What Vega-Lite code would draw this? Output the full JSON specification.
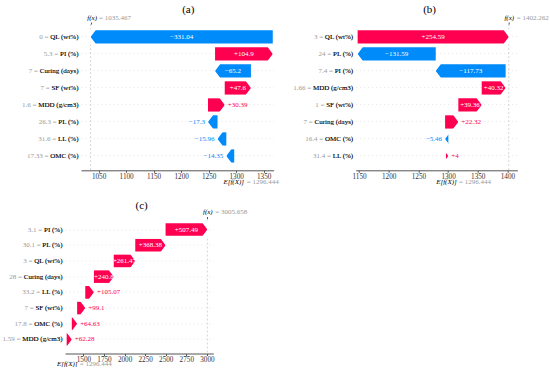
{
  "$schema": "https://vega.github.io/schema/vega-lite/v6.json",
  "padding": {"left": 0, "top": 4, "right": 0, "bottom": 0},
  "background": "white",
  "config": {
    "view": {"stroke": null},
    "font": "Liberation Serif",
    "axis": {"labelFont": "Liberation Serif", "labelFontSize": 7, "titleFont": "Liberation Serif"},
    "title": {"font": "Liberation Serif", "fontSize": 11, "fontWeight": "normal", "color": "#000000"},
    "text": {"font": "Liberation Serif", "fontSize": 7}
  },
  "datasets": {
    "a": [
      {"label": "0 = QL (wt%)", "shap": -331.04, "start": 1366.507, "end": 1035.467, "txt": "−331.04"},
      {"label": "5.3 = PI (%)", "shap": 104.9, "start": 1261.607, "end": 1366.507, "txt": "+104.9"},
      {"label": "7 = Curing (days)", "shap": -65.2, "start": 1326.807, "end": 1261.607, "txt": "−65.2"},
      {"label": "7 = SF (wt%)", "shap": 47.6, "start": 1279.207, "end": 1326.807, "txt": "+47.6"},
      {"label": "1.6 = MDD (g/cm3)", "shap": 30.39, "start": 1248.817, "end": 1279.207, "txt": "+30.39"},
      {"label": "26.3 = PL (%)", "shap": -17.3, "start": 1266.117, "end": 1248.817, "txt": "−17.3"},
      {"label": "31.6 = LL (%)", "shap": -15.96, "start": 1282.077, "end": 1266.117, "txt": "−15.96"},
      {"label": "17.33 = OMC (%)", "shap": -14.35, "start": 1296.444, "end": 1282.077, "txt": "−14.35"}
    ],
    "b": [
      {"label": "3 = QL (wt%)", "shap": 254.59, "start": 1147.664, "end": 1402.262, "txt": "+254.59"},
      {"label": "24 = PL (%)", "shap": -131.59, "start": 1279.254, "end": 1147.664, "txt": "−131.59"},
      {"label": "7.4 = PI (%)", "shap": -117.73, "start": 1396.984, "end": 1279.254, "txt": "−117.73"},
      {"label": "1.66 = MDD (g/cm3)", "shap": 40.32, "start": 1356.664, "end": 1396.984, "txt": "+40.32"},
      {"label": "1 = SF (wt%)", "shap": 39.36, "start": 1317.304, "end": 1356.664, "txt": "+39.36"},
      {"label": "7 = Curing (days)", "shap": 22.32, "start": 1294.984, "end": 1317.304, "txt": "+22.32"},
      {"label": "16.4 = OMC (%)", "shap": -5.46, "start": 1300.444, "end": 1294.984, "txt": "−5.46"},
      {"label": "31.4 = LL (%)", "shap": 4, "start": 1296.444, "end": 1300.444, "txt": "+4"}
    ],
    "c": [
      {"label": "3.1 = PI (%)", "shap": 507.49, "start": 2498.17, "end": 3005.658, "txt": "+507.49"},
      {"label": "30.1 = PL (%)", "shap": 368.38, "start": 2129.79, "end": 2498.17, "txt": "+368.38"},
      {"label": "3 = QL (wt%)", "shap": 261.47, "start": 1868.32, "end": 2129.79, "txt": "+261.47"},
      {"label": "28 = Curing (days)", "shap": 240.8, "start": 1627.52, "end": 1868.32, "txt": "+240.8"},
      {"label": "33.2 = LL (%)", "shap": 105.07, "start": 1522.45, "end": 1627.52, "txt": "+105.07"},
      {"label": "7 = SF (wt%)", "shap": 99.1, "start": 1423.35, "end": 1522.45, "txt": "+99.1"},
      {"label": "17.8 = OMC (%)", "shap": 64.63, "start": 1358.72, "end": 1423.35, "txt": "+64.63"},
      {"label": "1.59 = MDD (g/cm3)", "shap": 62.28, "start": 1296.444, "end": 1358.72, "txt": "+62.28"}
    ]
  },
  "spacing": 14.5,
  "vconcat": [
    {
      "bounds": "flush",
      "spacing": 0,
      "hconcat": [
        {"width": 15.7, "height": 1, "data": {"values": []}, "mark": {"type": "point"}},
        {
          "bounds": "flush",
          "spacing": 81.7,
          "hconcat": [
            {
              "title": {"text": "(a)", "frame": "group", "anchor": "middle", "dx": 11, "offset": -11, "baseline": "alphabetic"},
              "width": 192.6,
              "height": 146.3,
              "data": {"name": "a"},
              "resolve": {"axis": {"x": "independent", "y": "independent"}},
              "layer": [
                {
                  "data": {"values": [{}]},
                  "mark": {"type": "rule", "color": "#bbbbbb", "strokeDash": [2, 2], "strokeWidth": 0.6},
                  "encoding": {"x": {"datum": 1035.467, "type": "quantitative",
                    "axis": {"orient": "top", "values": [1035.467], "labelExpr": "'f(x)'", "labelFontStyle": "italic", "labelColor": "#000000", "labelAlign": "center", "labelOffset": 1, "ticks": true, "tickSize": 2, "tickColor": "#555555", "domain": false, "grid": false, "labelPadding": 2, "labelFlush": false, "labelBaseline": "bottom", "title": null, "zindex": 1}}}
                },
                {
                  "mark": {"type": "bar"},
                  "encoding": {
                    "y": {"field": "label", "type": "nominal", "sort": null,
                      "scale": {"domain": ["0 = QL (wt%)", "5.3 = PI (%)", "7 = Curing (days)", "7 = SF (wt%)", "1.6 = MDD (g/cm3)", "26.3 = PL (%)", "31.6 = LL (%)", "17.33 = OMC (%)"], "paddingInner": 0.22, "paddingOuter": 0.413, "align": 0.45},
                      "axis": {"orient": "left", "labelColor": "#999999", "ticks": false, "tickSize": 0, "domain": false, "labelPadding": 3, "minExtent": 65, "grid": true, "gridColor": "#cccccc", "gridDash": [1, 3], "gridWidth": 0.5, "bandPosition": 0.5, "title": null, "zindex": 0}},
                    "x": {"field": "start", "type": "quantitative",
                      "scale": {"domain": [1018, 1368], "nice": false, "zero": false},
                      "axis": {"orient": "bottom", "values": [1050, 1100, 1150, 1200, 1250, 1300, 1350], "format": "d", "tickSize": 2, "labelPadding": 0, "domainColor": "#555555", "tickColor": "#555555", "labelColor": "#333333", "grid": false, "title": null, "labelFlush": false, "labelFontSize": 7.2}},
                    "x2": {"field": "end"},
                    "color": {"condition": {"test": "datum.shap > 0", "value": "#ff0051"}, "value": "#008bfb"}
                  }
                },
                {
                  "transform": [{"filter": "datum.shap > 0"}],
                  "mark": {"type": "point", "shape": "M 0 0 L -0.8625 -1.15 L 0.15 -1.15 L 0.15 1.15 L -0.8625 1.15 Z", "filled": true, "color": "white", "opacity": 1, "size": 177, "strokeWidth": 0},
                  "encoding": {
                    "x": {"field": "end", "type": "quantitative",
                      "axis": {"orient": "bottom", "values": [1296.444], "labelExpr": "'E[f(X)]'", "labelFontStyle": "italic", "labelColor": "#000000", "labelAlign": "center", "labelOffset": -1, "ticks": false, "tickSize": 0, "domain": false, "grid": false, "labelPadding": 7.5, "labelFlush": false, "title": null, "zindex": 1}},
                    "y": {"field": "label", "type": "nominal", "sort": null, "axis": null}
                  }
                },
                {
                  "transform": [{"filter": "datum.shap < 0"}],
                  "mark": {"type": "point", "shape": "M 0 0 L 0.8625 -1.15 L -0.15 -1.15 L -0.15 1.15 L 0.8625 1.15 Z", "filled": true, "color": "white", "opacity": 1, "size": 177, "strokeWidth": 0},
                  "encoding": {
                    "x": {"field": "end", "type": "quantitative", "axis": null},
                    "y": {"field": "label", "type": "nominal", "sort": null, "axis": null}
                  }
                },
                {
                  "transform": [{"filter": "abs(datum.shap) > 40"}, {"fold": ["start", "end"], "as": ["k", "pos"]}],
                  "mark": {"type": "text", "color": "white", "baseline": "middle", "align": "center"},
                  "encoding": {
                    "x": {"aggregate": "mean", "field": "pos", "type": "quantitative",
                      "axis": {"orient": "top", "values": [1035.467], "labelExpr": "'= 1035.467'", "labelColor": "#999999", "labelAlign": "left", "labelOffset": 8, "ticks": true, "tickSize": 2, "tickOpacity": 0, "domain": false, "grid": false, "labelPadding": 2, "labelFlush": false, "labelBaseline": "bottom", "title": null, "zindex": 1}},
                    "y": {"field": "label", "type": "nominal", "sort": null,
                      "axis": {"orient": "left", "labelColor": "#000000", "labelExpr": "split(datum.label, ' = ')[1]", "ticks": false, "tickSize": 0, "domain": false, "labelPadding": 3, "minExtent": 65, "grid": false, "title": null, "zindex": 1}},
                    "text": {"field": "txt"}
                  }
                },
                {
                  "transform": [{"filter": "datum.shap > 0 && abs(datum.shap) <= 40"}],
                  "mark": {"type": "text", "color": "#ff0051", "baseline": "middle", "align": "left", "dx": 3},
                  "encoding": {
                    "x": {"field": "end", "type": "quantitative",
                      "axis": {"orient": "bottom", "values": [1296.444], "labelExpr": "'= 1296.444'", "labelColor": "#999999", "labelAlign": "left", "labelOffset": 12, "ticks": false, "tickSize": 0, "domain": false, "grid": false, "labelPadding": 7.5, "labelFlush": false, "title": null, "zindex": 1}},
                    "y": {"field": "label", "type": "nominal", "sort": null, "axis": null},
                    "text": {"field": "txt"}
                  }
                },
                {
                  "transform": [{"filter": "datum.shap < 0 && abs(datum.shap) <= 40"}],
                  "mark": {"type": "text", "color": "#008bfb", "baseline": "middle", "align": "right", "dx": -3},
                  "encoding": {
                    "x": {"field": "end", "type": "quantitative", "axis": null},
                    "y": {"field": "label", "type": "nominal", "sort": null, "axis": null},
                    "text": {"field": "txt"}
                  }
                }
              ]
            },
            {
              "title": {"text": "(b)", "frame": "group", "anchor": "middle", "dx": -7, "offset": -11, "baseline": "alphabetic"},
              "width": 161.7,
              "height": 146.3,
              "data": {"name": "b"},
              "resolve": {"axis": {"x": "independent", "y": "independent"}},
              "layer": [
                {
                  "data": {"values": [{}]},
                  "mark": {"type": "rule", "color": "#bbbbbb", "strokeDash": [2, 2], "strokeWidth": 0.6},
                  "encoding": {"x": {"datum": 1402.262, "type": "quantitative",
                    "axis": {"orient": "top", "values": [1402.262], "labelExpr": "'f(x)'", "labelFontStyle": "italic", "labelColor": "#000000", "labelAlign": "center", "labelOffset": 0, "ticks": true, "tickSize": 2, "tickColor": "#555555", "domain": false, "grid": false, "labelPadding": 2, "labelFlush": false, "labelBaseline": "bottom", "title": null, "zindex": 1}}}
                },
                {
                  "mark": {"type": "bar"},
                  "encoding": {
                    "y": {"field": "label", "type": "nominal", "sort": null,
                      "scale": {"domain": ["3 = QL (wt%)", "24 = PL (%)", "7.4 = PI (%)", "1.66 = MDD (g/cm3)", "1 = SF (wt%)", "7 = Curing (days)", "16.4 = OMC (%)", "31.4 = LL (%)"], "paddingInner": 0.22, "paddingOuter": 0.413, "align": 0.45},
                      "axis": {"orient": "left", "labelColor": "#999999", "ticks": false, "tickSize": 0, "domain": false, "labelPadding": 3, "minExtent": 70, "grid": true, "gridColor": "#cccccc", "gridDash": [1, 3], "gridWidth": 0.5, "bandPosition": 0.5, "title": null, "zindex": 0}},
                    "x": {"field": "start", "type": "quantitative",
                      "scale": {"domain": [1144.4, 1416.8], "nice": false, "zero": false},
                      "axis": {"orient": "bottom", "values": [1150, 1200, 1250, 1300, 1350, 1400], "format": "d", "tickSize": 2, "labelPadding": 0, "domainColor": "#555555", "tickColor": "#555555", "labelColor": "#333333", "grid": false, "title": null, "labelFlush": false, "labelFontSize": 7.2}},
                    "x2": {"field": "end"},
                    "color": {"condition": {"test": "datum.shap > 0", "value": "#ff0051"}, "value": "#008bfb"}
                  }
                },
                {
                  "transform": [{"filter": "datum.shap > 0"}],
                  "mark": {"type": "point", "shape": "M 0 0 L -0.8625 -1.15 L 0.15 -1.15 L 0.15 1.15 L -0.8625 1.15 Z", "filled": true, "color": "white", "opacity": 1, "size": 177, "strokeWidth": 0},
                  "encoding": {
                    "x": {"field": "end", "type": "quantitative",
                      "axis": {"orient": "bottom", "values": [1296.444], "labelExpr": "'E[f(X)]'", "labelFontStyle": "italic", "labelColor": "#000000", "labelAlign": "center", "labelOffset": 0, "ticks": false, "tickSize": 0, "domain": false, "grid": false, "labelPadding": 7.5, "labelFlush": false, "title": null, "zindex": 1}},
                    "y": {"field": "label", "type": "nominal", "sort": null, "axis": null}
                  }
                },
                {
                  "transform": [{"filter": "datum.shap < 0"}],
                  "mark": {"type": "point", "shape": "M 0 0 L 0.8625 -1.15 L -0.15 -1.15 L -0.15 1.15 L 0.8625 1.15 Z", "filled": true, "color": "white", "opacity": 1, "size": 177, "strokeWidth": 0},
                  "encoding": {
                    "x": {"field": "end", "type": "quantitative", "axis": null},
                    "y": {"field": "label", "type": "nominal", "sort": null, "axis": null}
                  }
                },
                {
                  "transform": [{"filter": "abs(datum.shap) > 30"}, {"fold": ["start", "end"], "as": ["k", "pos"]}],
                  "mark": {"type": "text", "color": "white", "baseline": "middle", "align": "center"},
                  "encoding": {
                    "x": {"aggregate": "mean", "field": "pos", "type": "quantitative",
                      "axis": {"orient": "top", "values": [1402.262], "labelExpr": "'= 1402.262'", "labelColor": "#999999", "labelAlign": "left", "labelOffset": 7.5, "ticks": true, "tickSize": 2, "tickOpacity": 0, "domain": false, "grid": false, "labelPadding": 2, "labelFlush": false, "labelBaseline": "bottom", "title": null, "zindex": 1}},
                    "y": {"field": "label", "type": "nominal", "sort": null,
                      "axis": {"orient": "left", "labelColor": "#000000", "labelExpr": "split(datum.label, ' = ')[1]", "ticks": false, "tickSize": 0, "domain": false, "labelPadding": 3, "minExtent": 70, "grid": false, "title": null, "zindex": 1}},
                    "text": {"field": "txt"}
                  }
                },
                {
                  "transform": [{"filter": "datum.shap > 0 && abs(datum.shap) <= 30"}],
                  "mark": {"type": "text", "color": "#ff0051", "baseline": "middle", "align": "left", "dx": 3},
                  "encoding": {
                    "x": {"field": "end", "type": "quantitative",
                      "axis": {"orient": "bottom", "values": [1296.444], "labelExpr": "'= 1296.444'", "labelColor": "#999999", "labelAlign": "left", "labelOffset": 12.5, "ticks": false, "tickSize": 0, "domain": false, "grid": false, "labelPadding": 7.5, "labelFlush": false, "title": null, "zindex": 1}},
                    "y": {"field": "label", "type": "nominal", "sort": null, "axis": null},
                    "text": {"field": "txt"}
                  }
                },
                {
                  "transform": [{"filter": "datum.shap < 0 && abs(datum.shap) <= 30"}],
                  "mark": {"type": "text", "color": "#008bfb", "baseline": "middle", "align": "right", "dx": -3},
                  "encoding": {
                    "x": {"field": "end", "type": "quantitative", "axis": null},
                    "y": {"field": "label", "type": "nominal", "sort": null, "axis": null},
                    "text": {"field": "txt"}
                  }
                }
              ]
            }
          ]
        }
      ]
    },
    {
      "title": {"text": "(c)", "frame": "group", "anchor": "middle", "dx": 2.5, "offset": -12, "baseline": "alphabetic"},
      "width": 148.3,
      "height": 135,
      "data": {"name": "c"},
      "resolve": {"axis": {"x": "independent", "y": "independent"}},
      "layer": [
        {
          "data": {"values": [{}]},
          "mark": {"type": "rule", "color": "#bbbbbb", "strokeDash": [2, 2], "strokeWidth": 0.6},
          "encoding": {"x": {"datum": 3005.658, "type": "quantitative",
            "axis": {"orient": "top", "values": [3005.658], "labelExpr": "'f(x)'", "labelFontStyle": "italic", "labelColor": "#000000", "labelAlign": "center", "labelOffset": 0, "ticks": true, "tickSize": 2, "tickColor": "#555555", "domain": false, "grid": false, "labelPadding": 2, "labelFlush": false, "labelBaseline": "bottom", "title": null, "zindex": 1}}}
        },
        {
          "mark": {"type": "bar"},
          "encoding": {
            "y": {"field": "label", "type": "nominal", "sort": null,
              "scale": {"domain": ["3.1 = PI (%)", "30.1 = PL (%)", "3 = QL (wt%)", "28 = Curing (days)", "33.2 = LL (%)", "7 = SF (wt%)", "17.8 = OMC (%)", "1.59 = MDD (g/cm3)"], "paddingInner": 0.2, "paddingOuter": 0.397, "align": 0.38},
              "axis": {"orient": "left", "labelColor": "#999999", "ticks": false, "tickSize": 0, "domain": false, "labelPadding": 3, "minExtent": 65, "grid": true, "gridColor": "#cccccc", "gridDash": [1, 3], "gridWidth": 0.5, "bandPosition": 0.5, "title": null, "zindex": 0}},
            "x": {"field": "start", "type": "quantitative",
              "scale": {"domain": [1276, 3078], "nice": false, "zero": false},
              "axis": {"orient": "bottom", "values": [1500, 1750, 2000, 2250, 2500, 2750, 3000], "format": "d", "tickSize": 2, "labelPadding": 0, "domainColor": "#555555", "tickColor": "#555555", "labelColor": "#333333", "grid": false, "title": null, "labelFlush": false, "labelFontSize": 7.2}},
            "x2": {"field": "end"},
            "color": {"condition": {"test": "datum.shap > 0", "value": "#ff0051"}, "value": "#008bfb"}
          }
        },
        {
          "transform": [{"filter": "datum.shap > 0"}],
          "mark": {"type": "point", "shape": "M 0 0 L -0.8625 -1.15 L 0.15 -1.15 L 0.15 1.15 L -0.8625 1.15 Z", "filled": true, "color": "white", "opacity": 1, "size": 158, "strokeWidth": 0},
          "encoding": {
            "x": {"field": "end", "type": "quantitative",
              "axis": {"orient": "bottom", "values": [1296.444], "labelExpr": "'E[f(X)]'", "labelFontStyle": "italic", "labelColor": "#000000", "labelAlign": "center", "labelOffset": 0, "ticks": false, "tickSize": 0, "domain": false, "grid": false, "labelPadding": 6, "labelFlush": false, "title": null, "zindex": 1}},
            "y": {"field": "label", "type": "nominal", "sort": null, "axis": null}
          }
        },
        {
          "transform": [{"filter": "abs(datum.shap) > 200"}, {"fold": ["start", "end"], "as": ["k", "pos"]}],
          "mark": {"type": "text", "color": "white", "baseline": "middle", "align": "center"},
          "encoding": {
            "x": {"aggregate": "mean", "field": "pos", "type": "quantitative",
              "axis": {"orient": "top", "values": [3005.658], "labelExpr": "'= 3005.658'", "labelColor": "#999999", "labelAlign": "left", "labelOffset": 7.5, "ticks": true, "tickSize": 2, "tickOpacity": 0, "domain": false, "grid": false, "labelPadding": 2, "labelFlush": false, "labelBaseline": "bottom", "title": null, "zindex": 1}},
            "y": {"field": "label", "type": "nominal", "sort": null,
              "axis": {"orient": "left", "labelColor": "#000000", "labelExpr": "split(datum.label, ' = ')[1]", "ticks": false, "tickSize": 0, "domain": false, "labelPadding": 3, "minExtent": 65, "grid": false, "title": null, "zindex": 1}},
            "text": {"field": "txt"}
          }
        },
        {
          "transform": [{"filter": "datum.shap > 0 && abs(datum.shap) <= 200"}],
          "mark": {"type": "text", "color": "#ff0051", "baseline": "middle", "align": "left", "dx": 3},
          "encoding": {
            "x": {"field": "end", "type": "quantitative",
              "axis": {"orient": "bottom", "values": [1296.444], "labelExpr": "'= 1296.444'", "labelColor": "#999999", "labelAlign": "left", "labelOffset": 12.5, "ticks": false, "tickSize": 0, "domain": false, "grid": false, "labelPadding": 6, "labelFlush": false, "title": null, "zindex": 1}},
            "y": {"field": "label", "type": "nominal", "sort": null, "axis": null},
            "text": {"field": "txt"}
          }
        }
      ]
    }
  ]
}
